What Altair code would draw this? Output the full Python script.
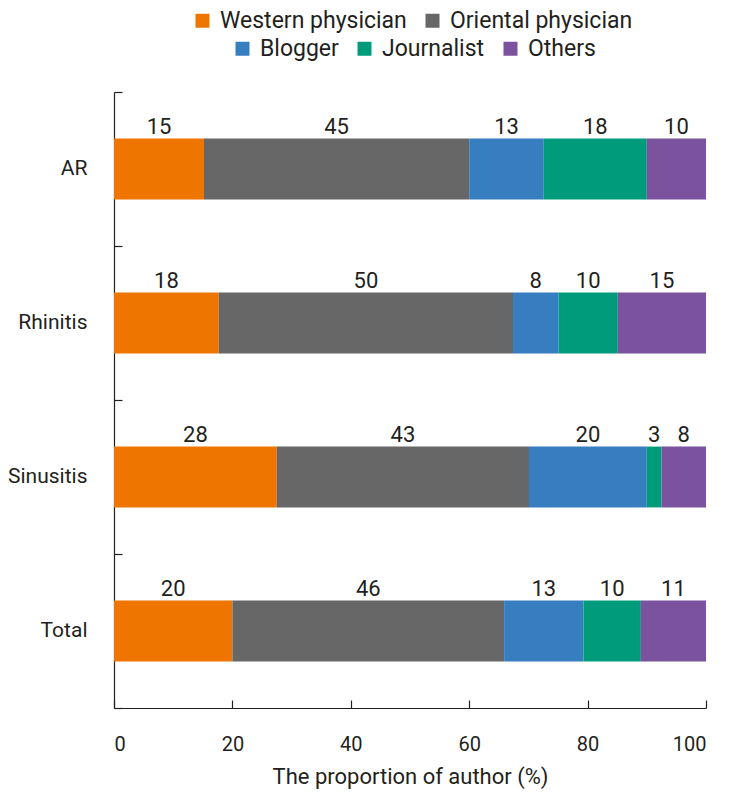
import altair as alt
import pandas as pd

# ---------------- data ----------------
categories = ["AR", "Rhinitis", "Sinusitis", "Total"]
authors = ["Western physician", "Oriental physician", "Blogger", "Journalist", "Others"]
colors = ["#EE7600", "#676767", "#377EC1", "#009B7B", "#7B529E"]

# bar widths (percent)
western = [15.2, 17.7, 27.5, 20.0]
oriental = [44.8, 49.7, 42.6, 45.9]
blogger = [12.6, 7.7, 19.9, 13.4]
journalist = [17.4, 10.0, 2.5, 9.7]
others = [10.0, 14.9, 7.5, 11.0]

# printed labels above the segments
label_western = [15, 18, 28, 20]
label_oriental = [45, 50, 43, 46]
label_blogger = [13, 8, 20, 13]
label_journalist = [18, 10, 3, 10]
label_others = [10, 15, 8, 11]

x_ticks = [0, 20, 40, 60, 80, 100]

values = [western, oriental, blogger, journalist, others]
labels = [label_western, label_oriental, label_blogger, label_journalist, label_others]

rows = []
for k, author in enumerate(authors):
    for i, cat in enumerate(categories):
        rows.append({"category": cat, "author": author, "order": k,
                     "value": values[k][i], "label": str(labels[k][i])})
df = pd.DataFrame(rows)

# ---------------- style ----------------
FONT = "Roboto"
INK = "#231f20"
W, H = 592, 616

base = alt.Chart(df).transform_stack(
    stack="value", groupby=["category"], as_=["x0", "x1"],
    sort=[alt.SortField("order", order="ascending")],
).transform_calculate(mid="(datum.x0 + datum.x1) / 2")

xscale = alt.Scale(domain=[0, 100], nice=False, zero=True)
yscale = alt.Scale(domain=categories, paddingInner=0, paddingOuter=0)

x_axis_main = alt.Axis(
    orient="bottom", values=x_ticks, ticks=False, tickSize=0, grid=False,
    domain=True, domainColor=INK, domainWidth=1.2,
    labelFont=FONT, labelFontSize=20, labelColor=INK, labelPadding=26,
    title="The proportion of author (%)", titleFont=FONT, titleFontSize=22,
    titleFontWeight="normal", titleColor=INK, titlePadding=12,
)
y_axis_main = alt.Axis(
    orient="left", ticks=False, tickSize=0, grid=False,
    domain=True, domainColor=INK, domainWidth=1.2,
    labelFont=FONT, labelFontSize=21, labelColor=INK, labelPadding=27,
    title=None,
)
x_axis_ticks = alt.Axis(
    orient="top", offset=-H, values=x_ticks, ticks=True, tickSize=8,
    tickColor=INK, tickWidth=1.2, labels=False, domain=False, grid=False, title=None,
)
y_axis_ticks = alt.Axis(
    orient="right", offset=-W, ticks=True, tickSize=8, tickBand="extent",
    tickColor=INK, tickWidth=1.2, labels=False, domain=False, grid=False, title=None,
)

def legend(x, y):
    return alt.Legend(
        orient="none", legendX=x, legendY=y, direction="horizontal", title=None,
        symbolType="square", symbolSize=196, symbolStrokeWidth=0,
        labelFont=FONT, labelFontSize=23, labelColor=INK, labelOffset=6,
        columnPadding=14, labelLimit=400,
    )

bar_height = {"band": 0.395}

bars1 = base.transform_filter(
    alt.FieldOneOfPredicate(field="author", oneOf=authors[:2])
).mark_bar(strokeWidth=0, height=bar_height).encode(
    x=alt.X("x0:Q", scale=xscale, axis=x_axis_main),
    x2="x1:Q",
    y=alt.Y("category:N", scale=yscale, sort=categories, axis=y_axis_main),
    color=alt.Color("author:N", sort=authors[:2],
                    scale=alt.Scale(domain=authors[:2], range=colors[:2]),
                    legend=legend(77, -83)),
)

bars2 = base.transform_filter(
    alt.FieldOneOfPredicate(field="author", oneOf=authors[2:])
).mark_bar(strokeWidth=0, height=bar_height).encode(
    x=alt.X("x0:Q", scale=xscale, axis=None),
    x2="x1:Q",
    y=alt.Y("category:N", scale=yscale, sort=categories, axis=None),
    color=alt.Color("author:N", sort=authors[2:],
                    scale=alt.Scale(domain=authors[2:], range=colors[2:]),
                    legend=legend(117, -55)),
)

text = base.mark_text(
    font=FONT, fontSize=22, color=INK, baseline="alphabetic", align="center", dy=-35,
).encode(
    x=alt.X("mid:Q", scale=xscale, axis=x_axis_ticks),
    y=alt.Y("category:N", scale=yscale, sort=categories, axis=y_axis_ticks),
    text="label:N",
)

chart = alt.layer(bars1, bars2, text).resolve_scale(
    color="independent"
).resolve_axis(
    x="independent", y="independent"
).properties(
    width=W, height=H,
    padding={"left": 106, "top": 84, "right": 16, "bottom": 82},
    autosize=alt.AutoSizeParams(type="none"),
).configure_view(stroke=None)

chart.save("out.html", embed_options={"renderer": "svg", "actions": False})
